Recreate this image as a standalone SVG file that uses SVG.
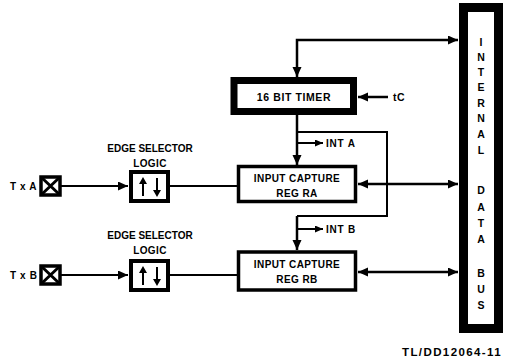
<svg xmlns="http://www.w3.org/2000/svg" width="505" height="360" viewBox="0 0 505 360">
<style>
text{font-family:"Liberation Sans",Arial,sans-serif;font-weight:bold;fill:#000}
.lbl{font-size:10px;letter-spacing:0.4px}
.bus{font-size:10.5px;text-anchor:middle}
.box{fill:#fff;stroke:#000}
.ln{fill:none;stroke:#000;stroke-width:2.5}
.thin{fill:none;stroke:#000;stroke-width:2}
</style>
<defs>
<marker id="ah" markerUnits="userSpaceOnUse" markerWidth="11" markerHeight="10" refX="10" refY="4.5" orient="auto-start-reverse">
<path d="M0,0 L10,4.5 L0,9 z" fill="#000"/>
</marker>
<marker id="as" markerUnits="userSpaceOnUse" markerWidth="9" markerHeight="8" refX="8" refY="3.5" orient="auto">
<path d="M0,0 L8,3.5 L0,7 z" fill="#000"/>
</marker>
</defs>

<g id="connectors">
<path class="ln" d="M297,77 V40 H458" marker-start="url(#ah)" marker-end="url(#ah)"/>
<path class="ln" d="M388,97 H358" marker-end="url(#ah)"/>
<path class="ln" d="M297,115 V165" marker-end="url(#ah)"/>
<path class="thin" d="M297,143 H323" marker-end="url(#as)"/>
<path class="thin" d="M297,132 H387 V216 H297"/>
<path class="ln" d="M297,216 V250" marker-end="url(#ah)"/>
<path class="thin" d="M297,229 H323" marker-end="url(#as)"/>
<path class="ln" d="M358,184 H458" marker-start="url(#ah)" marker-end="url(#ah)"/>
<path class="ln" d="M358,272 H458" marker-start="url(#ah)" marker-end="url(#ah)"/>
<path class="thin" d="M61,186 H128" marker-end="url(#ah)"/>
<path class="thin" d="M170,186 H237"/>
<path class="thin" d="M61,275 H128" marker-end="url(#ah)"/>
<path class="thin" d="M170,275 H237"/>
</g>

<g id="bus">
<rect class="box" x="463.5" y="7.5" width="35" height="321" stroke-width="9"/>
<text class="bus" x="481" y="46">I</text>
<text class="bus" x="481" y="61">N</text>
<text class="bus" x="481" y="76">T</text>
<text class="bus" x="481" y="91">E</text>
<text class="bus" x="481" y="107">R</text>
<text class="bus" x="481" y="122">N</text>
<text class="bus" x="481" y="138">A</text>
<text class="bus" x="481" y="154">L</text>
<text class="bus" x="481" y="194">D</text>
<text class="bus" x="481" y="211">A</text>
<text class="bus" x="481" y="227">T</text>
<text class="bus" x="481" y="243">A</text>
<text class="bus" x="481" y="277">B</text>
<text class="bus" x="481" y="293">U</text>
<text class="bus" x="481" y="309">S</text>
</g>

<g id="timer">
<rect class="box" x="234" y="80.5" width="119.5" height="31" stroke-width="7"/>
<text class="lbl" x="294" y="101" text-anchor="middle" style="font-size:10.5px;letter-spacing:0.6px">16 BIT TIMER</text>
</g>

<g id="tc">
<text class="lbl" x="393" y="101" style="font-size:10.5px">tC</text>
</g>

<g id="intA">
<text class="lbl" x="326" y="147" style="letter-spacing:0.8px">INT A</text>
</g>
<g id="intB">
<text class="lbl" x="326" y="233" style="letter-spacing:0.8px">INT B</text>
</g>

<g id="regRA">
<rect class="box" x="238.5" y="166.5" width="117" height="35" stroke-width="3.5"/>
<text class="lbl" x="297" y="182" text-anchor="middle">INPUT CAPTURE</text>
<text class="lbl" x="297" y="197" text-anchor="middle">REG RA</text>
</g>

<g id="regRB">
<rect class="box" x="238.5" y="252" width="117" height="38" stroke-width="3.5"/>
<text class="lbl" x="297" y="268" text-anchor="middle">INPUT CAPTURE</text>
<text class="lbl" x="297" y="283" text-anchor="middle">REG RB</text>
</g>

<g id="edgeA">
<text class="lbl" x="150" y="152" text-anchor="middle" style="letter-spacing:0">EDGE SELECTOR</text>
<text class="lbl" x="150" y="167" text-anchor="middle">LOGIC</text>
<rect class="box" x="131" y="172" width="37" height="29" stroke-width="4"/>
<path class="thin" d="M143,196 V182 M157,178 V192"/>
<path d="M139,184 L143,177 L147,184 z M153,190 L157,197 L161,190 z" fill="#000"/>
</g>

<g id="edgeB">
<text class="lbl" x="150" y="239" text-anchor="middle" style="letter-spacing:0">EDGE SELECTOR</text>
<text class="lbl" x="150" y="254" text-anchor="middle">LOGIC</text>
<rect class="box" x="131" y="261" width="37" height="29" stroke-width="4"/>
<path class="thin" d="M143,285 V271 M157,267 V281"/>
<path d="M139,273 L143,266 L147,273 z M153,279 L157,286 L161,279 z" fill="#000"/>
</g>

<g id="txA">
<text class="lbl" x="10" y="190" style="letter-spacing:0.6px">T x A</text>
<rect class="box" x="41" y="177" width="19" height="18" stroke-width="3.5"/>
<path d="M41,177 L60,195 M60,177 L41,195" stroke="#000" stroke-width="3"/>
</g>

<g id="txB">
<text class="lbl" x="10" y="279" style="letter-spacing:0.6px">T x B</text>
<rect class="box" x="41" y="266" width="19" height="18" stroke-width="3.5"/>
<path d="M41,266 L60,284 M60,266 L41,284" stroke="#000" stroke-width="3"/>
</g>

<text x="402" y="356" style="font-size:11.5px;letter-spacing:1.4px">TL/DD12064-11</text>
</svg>
